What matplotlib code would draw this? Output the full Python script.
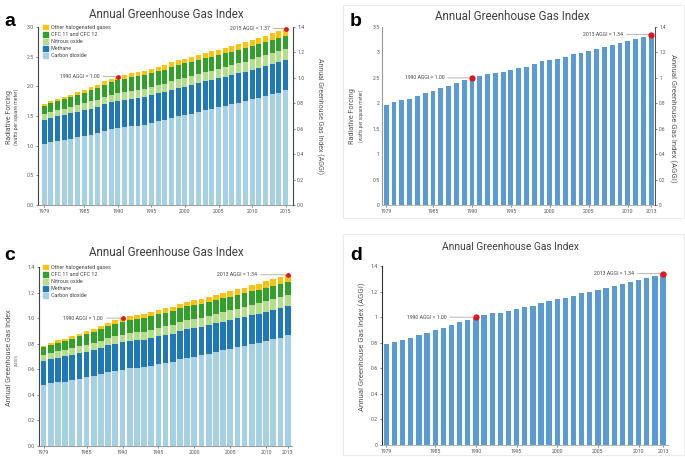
import matplotlib.pyplot as plt
from matplotlib.patches import Patch, Rectangle

plt.rcParams['font.family'] = ['Roboto', 'DejaVu Sans']

W, H = 685, 457

# Radiative forcing by gas (W/m2)
years_a = list(range(1979, 2016))
co2 = [1.027, 1.058, 1.077, 1.089, 1.115, 1.140, 1.162, 1.184, 1.211, 1.250,
       1.274, 1.293, 1.313, 1.324, 1.334, 1.356, 1.384, 1.410, 1.426, 1.467,
       1.496, 1.513, 1.534, 1.564, 1.597, 1.620, 1.649, 1.675, 1.700, 1.727,
       1.747, 1.780, 1.806, 1.835, 1.871, 1.895, 1.930]
ch4 = [0.406, 0.413, 0.420, 0.426, 0.429, 0.432, 0.437, 0.442, 0.447, 0.451,
       0.455, 0.459, 0.463, 0.467, 0.467, 0.470, 0.473, 0.474, 0.475, 0.479,
       0.483, 0.484, 0.483, 0.484, 0.486, 0.485, 0.484, 0.484, 0.487, 0.491,
       0.494, 0.496, 0.498, 0.501, 0.504, 0.507, 0.511]
n2o = [0.104, 0.104, 0.107, 0.111, 0.113, 0.116, 0.118, 0.122, 0.120, 0.123,
       0.126, 0.129, 0.131, 0.133, 0.134, 0.134, 0.136, 0.139, 0.142, 0.145,
       0.148, 0.151, 0.153, 0.156, 0.158, 0.161, 0.164, 0.167, 0.169, 0.174,
       0.176, 0.179, 0.182, 0.185, 0.187, 0.190, 0.194]
cfc = [0.131, 0.139, 0.146, 0.154, 0.161, 0.168, 0.176, 0.185, 0.194, 0.205,
       0.213, 0.219, 0.224, 0.229, 0.231, 0.233, 0.235, 0.235, 0.237, 0.237,
       0.237, 0.237, 0.237, 0.236, 0.234, 0.234, 0.232, 0.230, 0.229, 0.227,
       0.225, 0.225, 0.223, 0.221, 0.220, 0.218, 0.217]
other = [0.031, 0.034, 0.036, 0.038, 0.041, 0.044, 0.047, 0.049, 0.053, 0.057,
         0.061, 0.064, 0.067, 0.067, 0.068, 0.069, 0.070, 0.072, 0.074, 0.075,
         0.077, 0.078, 0.080, 0.082, 0.085, 0.088, 0.091, 0.094, 0.097, 0.101,
         0.104, 0.107, 0.110, 0.113, 0.116, 0.119, 0.122]

years_bd = list(range(1979, 2014))
aggi = [0.787, 0.808, 0.822, 0.837, 0.857, 0.877, 0.897, 0.917, 0.935, 0.963,
        0.980, 1.000, 1.017, 1.030, 1.035, 1.048, 1.064, 1.078, 1.088, 1.112,
        1.130, 1.140, 1.150, 1.167, 1.185, 1.198, 1.213, 1.228, 1.243, 1.258,
        1.273, 1.288, 1.303, 1.320, 1.340]

gas_names = ['Carbon dioxide', 'Methane', 'Nitrous oxide', 'CFC 11 and CFC 12',
             'Other halogenated gases']
gas_colors = ['#a6d0e4', '#1f78b8', '#b3de8c', '#33a02c', '#ffc20e']
bar_blue = '#5b9bd5'
dot_red = '#e3151b'
tick_col = '#555555'
xt_a = [1979, 1985, 1990, 1995, 2000, 2005, 2010, 2015]
xt_bd = [1979, 1985, 1990, 1995, 2000, 2005, 2010, 2013]


def px_axes(fig, l, t, r, b):
    return fig.add_axes([l / W, 1 - b / H, (r - l) / W, (b - t) / H])


def style(ax, left_col='#444444', bottom_col='#888888'):
    for s in ['top', 'right']:
        ax.spines[s].set_visible(False)
    ax.spines['left'].set_color(left_col)
    ax.spines['left'].set_linewidth(0.8)
    ax.spines['bottom'].set_color(bottom_col)
    ax.spines['bottom'].set_linewidth(0.6)
    ax.tick_params(labelsize=3.7, colors=tick_col, length=1.5, width=0.5, pad=1.5)


def stacked(ax, years, layers, width):
    bottom = [0.0] * len(years)
    for vals, c in zip(layers, gas_colors):
        ax.bar(years, vals, width, bottom=bottom, color=c, linewidth=0)
        bottom = [b + v for b, v in zip(bottom, vals)]
    return bottom


def note(ax, x, y, txt, off, ms):
    ax.annotate(txt, xy=(x, y), xytext=(-off, 0), textcoords='offset points',
                ha='right', va='center', fontsize=3.7, color='#444444',
                arrowprops=dict(arrowstyle='-', color='#aaaaaa', lw=0.6,
                                shrinkA=0.5, shrinkB=0))
    ax.plot([x], [y], 'o', color=dot_red, markersize=ms, zorder=5,
            markeredgewidth=0)


def gas_legend(ax, x, y):
    handles = [Patch(color=c, label=n) for n, c in zip(gas_names, gas_colors)][::-1]
    ax.legend(handles=handles, loc='upper left', bbox_to_anchor=(x / W, 1 - y / H),
              bbox_transform=fig.transFigure, frameon=False, fontsize=3.9,
              handlelength=0.9, handleheight=0.9, handletextpad=0.5,
              labelspacing=0.35, borderpad=0, borderaxespad=0, labelcolor='#444444')


def title(x, y, size=8.4):
    fig.text(x / W, 1 - y / H, 'Annual Greenhouse Gas Index', fontsize=size,
             color='#404040', ha='center', va='center')


def letter(x, y, s):
    fig.text(x / W, 1 - y / H, s, fontsize=14, fontweight='bold', va='center',
             family=['Liberation Sans', 'DejaVu Sans'])


fig = plt.figure(figsize=(W / 100, H / 100), dpi=100)

# ---- panel a
ax = px_axes(fig, 38, 27, 293, 205)
style(ax)
tot_a = stacked(ax, years_a, [co2, ch4, n2o, cfc, other], 0.74)
ax.set_xlim(1978.1, 2016.1)
ax.set_ylim(0, 3.0)
ax.set_yticks([0, 0.5, 1.0, 1.5, 2.0, 2.5, 3.0])
ax.set_yticklabels(['%.1f' % v for v in ax.get_yticks()])
ax.set_xticks(xt_a)
i90 = years_a.index(1990)
note(ax, 1990, tot_a[i90], '1990 AGGI = 1.00', 13, 3.5)
note(ax, 2015, tot_a[-1], '2015 AGGI = 1.37', 11.5, 3.5)
gas_legend(ax, 43, 25)
axr = ax.twinx()
axr.set_ylim(0, 1.4)
axr.set_yticks([0, 0.2, 0.4, 0.6, 0.8, 1.0, 1.2, 1.4])
axr.set_yticklabels(['%.1f' % v for v in axr.get_yticks()])
for s in ['top', 'left', 'bottom']:
    axr.spines[s].set_visible(False)
axr.spines['right'].set_color('#444444')
axr.spines['right'].set_linewidth(0.8)
axr.tick_params(labelsize=3.7, colors=tick_col, length=1.5, width=0.5, pad=1.5)
fig.text(10 / W, 1 - 117 / H, 'Radiative Forcing', rotation=90, fontsize=5,
         color='#555555', ha='center', va='center')
fig.text(16.5 / W, 1 - 117 / H, '(watts per square meter)', rotation=90,
         fontsize=3.7, color='#555555', ha='center', va='center')
fig.text(320 / W, 1 - 116 / H, 'Annual Greenhouse Gas Index (AGGI)', rotation=270,
         fontsize=5, color='#555555', ha='center', va='center')
title(166, 14)
letter(4, 21, 'a')

# ---- panel b
fig.add_artist(Rectangle((343 / W, 1 - 218 / H), (684 - 343) / W, 213 / H,
                         transform=fig.transFigure, fill=False,
                         edgecolor='#ececec', lw=0.8))
ax = px_axes(fig, 382, 27, 655, 205)
style(ax, left_col='#999999', bottom_col='#aaaaaa')
ax.set_ylim(0, 3.5)
ax.set_yticks([0, 0.5, 1, 1.5, 2, 2.5, 3, 3.5])
ax.set_yticklabels(['0', '0.5', '1', '1.5', '2', '2.5', '3', '3.5'])
ax.tick_params(axis='y', length=0)
ax.set_xlim(1978.45, 2013.5)
ax.set_xticks(xt_bd)
axr = ax.twinx()
axr.bar(years_bd, aggi, 0.62, color=bar_blue, linewidth=0)
axr.set_ylim(0, 1.4)
axr.set_yticks([0, 0.2, 0.4, 0.6, 0.8, 1.0, 1.2, 1.4])
axr.set_yticklabels(['0', '0.2', '0.4', '0.6', '0.8', '1', '1.2', '1.4'])
for s in ['top', 'left', 'bottom']:
    axr.spines[s].set_visible(False)
axr.spines['right'].set_color('#333333')
axr.spines['right'].set_linewidth(0.6)
axr.tick_params(labelsize=3.4, colors=tick_col, length=1.5, width=0.5, pad=1.5)
note(axr, 1990, aggi[years_bd.index(1990)], '1990 AGGI = 1.00', 20, 4.5)
note(axr, 2013, aggi[-1], '2013 AGGI = 1.34', 20, 4.5)
fig.text(353 / W, 1 - 116 / H, 'Radiative Forcing', rotation=90, fontsize=5.2,
         color='#555555', ha='center', va='center')
fig.text(361 / W, 1 - 116 / H, '(watts per square meter)', rotation=90,
         fontsize=3.4, color='#555555', ha='center', va='center')
fig.text(673 / W, 1 - 118 / H, 'Annual Greenhouse Gas Index (AGGI)', rotation=270,
         fontsize=5.6, color='#555555', ha='center', va='center')
title(512, 16)
letter(350, 21, 'b')

# ---- panel c (forcing expressed relative to 1990 total)
f1990 = tot_a[i90]
n = len(years_bd)
layers_c = [[v / f1990 for v in arr[:n]] for arr in [co2, ch4, n2o, cfc, other]]
ax = px_axes(fig, 39, 267, 292, 446)
style(ax)
tot_c = stacked(ax, years_bd, layers_c, 0.8)
ax.set_xlim(1978.37, 2013.6)
ax.set_ylim(0, 1.4)
ax.set_yticks([0, 0.2, 0.4, 0.6, 0.8, 1.0, 1.2, 1.4])
ax.set_yticklabels(['%.1f' % v for v in ax.get_yticks()])
ax.set_xticks(xt_bd)
note(ax, 1990, tot_c[i90], '1990 AGGI = 1.00', 14, 3.5)
note(ax, 2013, tot_c[-1], '2013 AGGI = 1.34', 22, 3.5)
gas_legend(ax, 43, 265)
fig.text(10 / W, 1 - 358 / H, 'Annual Greenhouse Gas Index', rotation=90,
         fontsize=5.2, color='#555555', ha='center', va='center')
fig.text(16 / W, 1 - 360 / H, '(AGGI)', rotation=90, fontsize=3,
         color='#555555', ha='center', va='center')
title(166, 253)
letter(4, 255, 'c')

# ---- panel d
fig.add_artist(Rectangle((343 / W, 1 - 455 / H), (684 - 343) / W, 221 / H,
                         transform=fig.transFigure, fill=False,
                         edgecolor='#ececec', lw=0.8))
ax = px_axes(fig, 382, 266, 668, 445)
style(ax, left_col='#333333', bottom_col='#aaaaaa')
ax.bar(years_bd, aggi, 0.65, color=bar_blue, linewidth=0)
ax.set_xlim(1978.47, 2013.6)
ax.set_ylim(0, 1.4)
ax.set_yticks([0, 0.2, 0.4, 0.6, 0.8, 1.0, 1.2, 1.4])
ax.set_yticklabels(['0', '0.2', '0.4', '0.6', '0.8', '1', '1.2', '1.4'])
ax.set_xticks(xt_bd)
note(ax, 1990, aggi[years_bd.index(1990)], '1990 AGGI = 1.00', 21, 4.5)
note(ax, 2013, aggi[-1], '2013 AGGI = 1.34', 21, 4.5)
fig.text(362 / W, 1 - 347 / H, 'Annual Greenhouse Gas Index (AGGI)', rotation=90,
         fontsize=5.6, color='#555555', ha='center', va='center')
title(511, 247, 7.4)
letter(350, 255, 'd')

fig.savefig('out.png', dpi=100)
